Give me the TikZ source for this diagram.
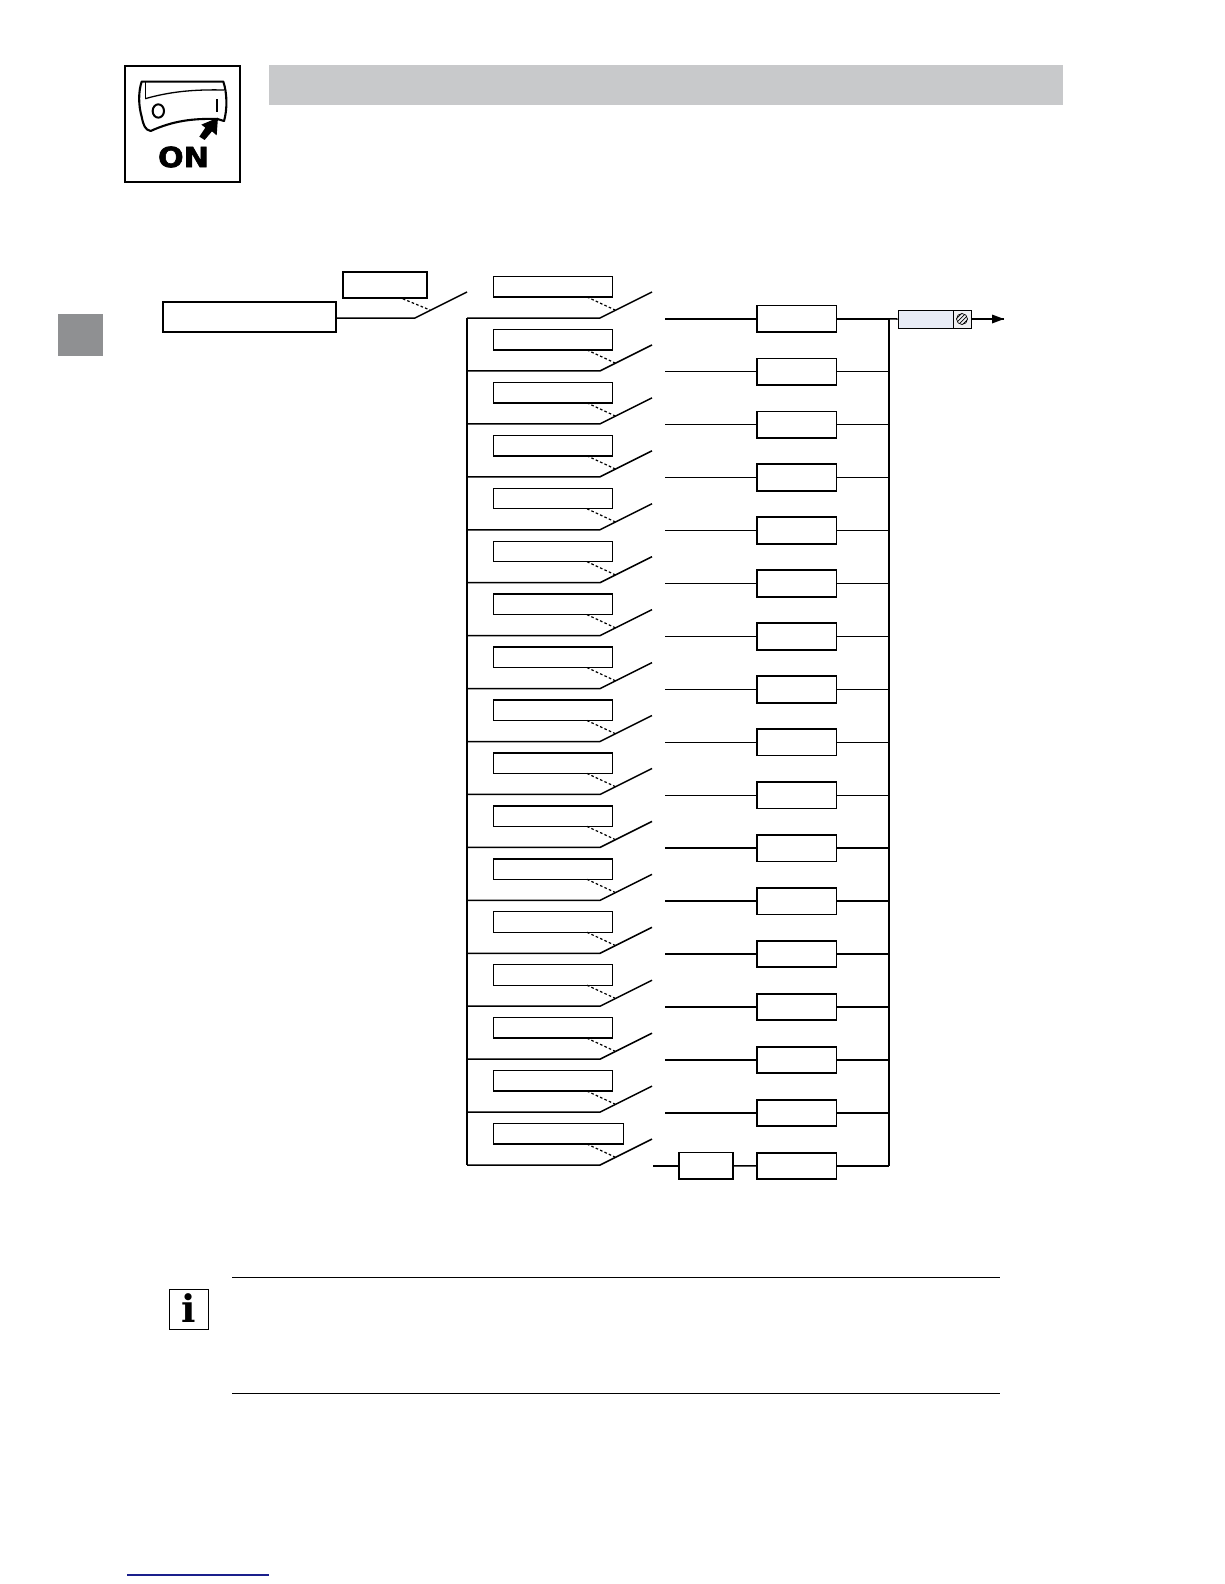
\documentclass[tikz,border=0pt]{standalone}
\usepackage{fontspec}
\newfontfamily\onfont[FakeBold=2,FakeStretch=1.08]{DejaVu Sans}
\newfontfamily\infofont{DejaVu Serif}
\usetikzlibrary{calc}
\definecolor{barfill}{HTML}{C8C9CB}
\definecolor{tabfill}{HTML}{8F9092}
\definecolor{outfill}{HTML}{E8ECF6}
\definecolor{outgrey}{HTML}{F0F0F2}
\definecolor{pagelink}{HTML}{1A1F8C}
\tikzset{
  wire/.style={line width=1.5pt,line join=miter},
  ctrlbox/.style={draw,line width=1.4pt,fill=white,inner sep=0pt,anchor=south west,minimum height=20.5pt},
  fusebox/.style={draw,line width=1.8pt,fill=white,inner sep=0pt,minimum width=79.5pt,minimum height=26.5pt},
  link/.style={line width=1.2pt,dash pattern=on 2.6pt off 2.2pt},
  rule/.style={line width=0.9pt}
}
\begin{document}
\begin{tikzpicture}[x=1pt,y=-1pt]
\useasboundingbox (0,0) rectangle (1224,1584);
% header
\fill[barfill] (269,65) rectangle (1063,105);
\fill[tabfill] (58,314) rectangle (103,356);
% ON icon
\draw[line width=2.8pt] (125,66) rectangle (240,182);
\begin{scope}[shift={(110,50)},x=0.3333pt,y=-0.3333pt]
  \draw[line width=2.1pt,line join=round,fill=white]
    (95,95) -- (340,95) .. controls (352,130) and (352,180) .. (342,213)
    -- (322,207) .. controls (250,205) and (190,212) .. (122,243)
    .. controls (105,240) and (100,225) .. (95,200)
    .. controls (85,165) and (85,125) .. (95,95) -- cycle;
  \draw[line width=1.1pt] (106,97) -- (106,146);
  \draw[line width=1.3pt] (106,146) .. controls (180,125) and (250,118) .. (342,120);
  \draw[line width=2pt] (145,183) ellipse (17 and 20);
  \draw[line width=1.8pt] (320,148) -- (320,186);
  \fill (284,270) -- (268,260) -- (286,233) -- (274,224) -- (324,203) -- (320,256) -- (306,244) -- cycle;
\end{scope}
\node[inner sep=0pt,font=\onfont\bfseries\fontsize{28}{28}\selectfont] (onlabel) at (183.5,157) {ON};
% master switch
\node[draw,line width=2pt,fill=white,inner sep=0pt,minimum width=173pt,minimum height=30pt] (main) at (249,316.8) {};
\node[draw,line width=1.6pt,fill=white,inner sep=0pt,minimum width=84pt,minimum height=26pt] (mainctrl) at (385,285) {};
\coordinate (mainpivot) at (415,318);
\coordinate (maintip) at (467,292);
\coordinate (mainlink) at (430,310);
\draw[wire] (main.east |- mainpivot) -- (mainpivot) -- (maintip);
\draw[link] ($(mainctrl.south east)+(-25,0)$) -- (mainlink);
% bus nodes
\coordinate (leftbustop) at (467,318);
\coordinate (leftbusbot) at (467,1165);
\coordinate (rightbustop) at (889,319);
\coordinate (rightbusbot) at (889,1166);
% rows
\foreach \i in {1,...,17}{
  \pgfmathsetmacro\yy{318+(\i-1)*52.94}
  \pgfmathsetmacro\bw{\i==17 ? 129.5 : 119}
  \node[ctrlbox,minimum width=\bw pt] (ctrl\i) at (493,{\yy-20.3}) {};
  \coordinate (lbus\i) at (467,\yy);
  \coordinate (pivot\i) at (600,\yy);
  \coordinate (tip\i) at (652,{\yy-26});
  \coordinate (lk\i) at (615,{\yy-8});
  \draw[wire] (lbus\i) -- (pivot\i) -- (tip\i);
  \coordinate (lkstart\i) at (587,{\yy-21});
  \draw[link] (lkstart\i) -- (lk\i);
  \node[fusebox] (fuse\i) at (796.8,{\yy+0.8}) {};
  \coordinate (rbus\i) at (889,{\yy+0.8});
  \draw[wire] (fuse\i.east) -- (rbus\i);
}
\foreach \i in {1,...,16}{
  \coordinate (contact\i) at (665,{318.8+(\i-1)*52.94});
  \draw[wire] (contact\i) -- (fuse\i.west);
}
\draw[wire] (leftbustop) -- (leftbusbot);
\draw[wire] (rightbustop) -- (rightbusbot);
% last row
\node[fusebox,minimum width=53.5pt] (extra) at (706,1165.8) {};
\coordinate (contact17) at (653,1165.8);
\draw[wire,line width=1.8pt] (contact17) -- (extra.west);
\draw[wire] (extra.east) -- (fuse17.west);
% output terminal
\node[draw,line width=1pt,fill=outfill,inner sep=0pt,minimum width=55pt,minimum height=18pt] (term) at (925.5,319) {};
\node[draw,line width=1pt,fill=outgrey,inner sep=0pt,minimum width=18pt,minimum height=18pt] (screw) at (962,319) {};
\coordinate (outtip) at (1004,319);
\draw[wire] (fuse1.east) -- (term.west);
\draw[wire] (screw.east) -- (outtip);
\fill (outtip) -- (992,314.5) -- (992,323.5) -- cycle;
\draw[line width=0.7pt] (screw.center) circle (5.5);
\begin{scope}
  \clip (screw.center) circle (5.5);
  \foreach \d in {-3,-1,1,3}{
    \draw[line width=0.7pt] ($(screw.center)+(-7+\d,7+\d)$) -- ($(screw.center)+(7+\d,-7+\d)$);
  }
\end{scope}
% note
\draw[rule] (232,1277) -- (1000,1277);
\draw[rule] (232,1393) -- (1000,1393);
\node[draw,line width=0.9pt,fill=white,inner sep=0pt,minimum width=39pt,minimum height=40pt] (info) at (188.5,1309) {};
\node[inner sep=0pt,font=\infofont\bfseries\fontsize{38}{38}\selectfont] (infoi) at (188.5,1308.5) {i};
% foot rule
\draw[pagelink,line width=1.3pt] (127,1575) -- (269,1575);
\end{tikzpicture}
\end{document}
